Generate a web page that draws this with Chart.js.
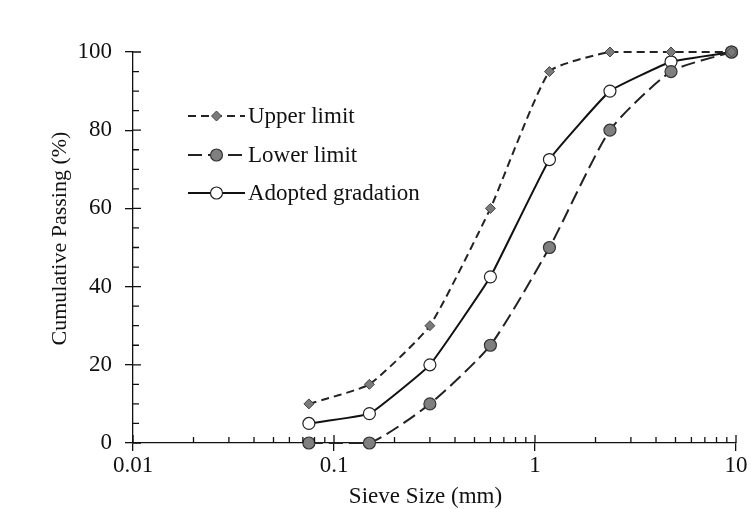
<!DOCTYPE html>
<html>
<head>
<meta charset="utf-8">
<script src="https://cdn.jsdelivr.net/npm/chart.js@4.4.1/dist/chart.umd.min.js"></script>
<style>
  html, body { margin: 0; padding: 0; background: #fff; }
  #wrap { width: 751px; height: 509px; }
</style>
</head>
<body>
<div id="wrap"><canvas id="grading"></canvas></div>
<script>
const sieveSizes = [0.075, 0.15, 0.3, 0.6, 1.18, 2.36, 4.75, 9.5];
const upperLimit = [10, 15, 30, 60, 95, 100, 100, 100];
const lowerLimit = [0, 0, 10, 25, 50, 80, 95, 100];
const adopted = [5, 7.5, 20, 42.5, 72.5, 90, 97.5, 100];
const xTicks = [0.01, 0.1, 1, 10];
const seriesNames = ['Upper limit', 'Lower limit', 'Adopted gradation'];
const xTitle = 'Sieve Size (mm)';
const yTitle = 'Cumulative Passing (%)';

const FONT = '"Liberation Serif", "Times New Roman", serif';

function pts(ys) {
    return sieveSizes.map((x, i) => ({ x: x, y: ys[i] }));
}

// minor ticks pointing into the plot, and the inner half of the major ticks
const innerTicks = {
    id: 'innerTicks',
    afterDraw(chart) {
        const ctx = chart.ctx;
        const xs = chart.scales.x, ys = chart.scales.y;
        const bottom = ys.getPixelForValue(0), left = xs.getPixelForValue(0.01);
        ctx.save();
        ctx.strokeStyle = '#111';
        ctx.lineWidth = 1.3;
        ctx.beginPath();
        for (let d = 0.01; d < 10; d *= 10) {
            for (let m = 1; m <= 10; m++) {
                const px = xs.getPixelForValue(d * m);
                const len = (m === 1 || m === 10) ? 8 : 6;
                ctx.moveTo(px, bottom);
                ctx.lineTo(px, bottom - len);
            }
        }
        for (let v = 0; v <= 100; v += 5) {
            const py = ys.getPixelForValue(v);
            const len = v % 20 === 0 ? 8 : 6;
            ctx.moveTo(left, py);
            ctx.lineTo(left + len, py);
        }
        ctx.stroke();
        ctx.restore();
    }
};

// axis titles, sitting a little left / above the plot centre like the original
const axisTitles = {
    id: 'axisTitles',
    afterDraw(chart) {
        const ctx = chart.ctx, a = chart.chartArea;
        ctx.save();
        ctx.fillStyle = '#111';
        ctx.font = '23px ' + FONT;
        ctx.textAlign = 'center';
        ctx.textBaseline = 'middle';
        ctx.fillText(xTitle, (a.left + a.right) / 2 - 9, 497);
        ctx.translate(60, (a.top + a.bottom) / 2 - 9);
        ctx.rotate(-Math.PI / 2);
        ctx.font = '22px ' + FONT;
        ctx.fillText(yTitle, 0, 0);
        ctx.restore();
    }
};

function drawMarker(ctx, ds, x, y) {
    ctx.save();
    ctx.setLineDash([]);
    ctx.fillStyle = ds.pointBackgroundColor;
    ctx.strokeStyle = ds.pointBorderColor;
    ctx.lineWidth = ds.pointBorderWidth;
    const r = ds.pointRadius;
    ctx.beginPath();
    if (ds.pointStyle === 'rectRot') {
        ctx.moveTo(x, y - r); ctx.lineTo(x + r, y); ctx.lineTo(x, y + r); ctx.lineTo(x - r, y); ctx.closePath();
    } else {
        ctx.arc(x, y, r, 0, Math.PI * 2);
    }
    ctx.fill();
    ctx.stroke();
    ctx.restore();
}

// legend inside the plot, line sample with marker in the middle
const insideLegend = {
    id: 'insideLegend',
    afterDraw(chart) {
        const ctx = chart.ctx;
        const x0 = 188, x1 = 245, rowY = [116, 155, 193];
        chart.data.datasets.forEach((ds, i) => {
            const y = rowY[i];
            ctx.save();
            ctx.strokeStyle = ds.borderColor;
            ctx.lineWidth = ds.borderWidth;
            ctx.setLineDash(ds.borderDash || []);
            ctx.beginPath();
            ctx.moveTo(x0, y);
            ctx.lineTo(x1, y);
            ctx.stroke();
            ctx.restore();
            drawMarker(ctx, ds, (x0 + x1) / 2, y);
            ctx.save();
            ctx.fillStyle = '#111';
            ctx.font = '23px ' + FONT;
            ctx.textBaseline = 'middle';
            ctx.fillText(ds.label, x1 + 3, y + 1);
            ctx.restore();
        });
    }
};

new Chart(document.getElementById('grading'), {
    type: 'line',
    data: {
        datasets: [{
            label: seriesNames[0],
            data: pts(upperLimit),
            borderColor: '#222',
            borderWidth: 2,
            borderDash: [8, 5],
            pointStyle: 'rectRot',
            pointRadius: 5,
            pointBackgroundColor: '#7a7a7a',
            pointBorderColor: '#444',
            pointBorderWidth: 1,
            tension: 0.15,
            clip: false
        }, {
            label: seriesNames[1],
            data: pts(lowerLimit),
            borderColor: '#222',
            borderWidth: 2,
            borderDash: [14, 6],
            pointStyle: 'circle',
            pointRadius: 6,
            pointBackgroundColor: '#7f7f7f',
            pointBorderColor: '#333',
            pointBorderWidth: 1.2,
            tension: 0.2,
            clip: false
        }, {
            label: seriesNames[2],
            data: pts(adopted),
            borderColor: '#111',
            borderWidth: 2,
            pointStyle: 'circle',
            pointRadius: 6,
            pointBackgroundColor: '#fff',
            pointBorderColor: '#222',
            pointBorderWidth: 1.2,
            tension: 0.1,
            clip: false
        }]
    },
    options: {
        responsive: true,
        maintainAspectRatio: false,
        animation: false,
        layout: { padding: { top: 52, right: 15, bottom: 0, left: 48 } },
        plugins: {
            legend: { display: false },
            tooltip: { enabled: false }
        },
        scales: {
            x: {
                type: 'logarithmic',
                min: 0.01,
                max: 10,
                afterBuildTicks: (axis) => { axis.ticks = xTicks.map(v => ({ value: v })); },
                afterFit: (axis) => { axis.height = 66; },
                border: { color: '#111', width: 1.3 },
                grid: { drawOnChartArea: false, color: '#111', tickLength: 8, lineWidth: 1.3 },
                ticks: {
                    color: '#111',
                    font: { family: FONT, size: 23 },
                    padding: 1,
                    maxRotation: 0,
                    callback: (v) => String(v)
                },
                title: { display: false }
            },
            y: {
                min: 0,
                max: 100,
                afterFit: (axis) => { axis.width = 85; },
                border: { color: '#111', width: 1.3 },
                grid: { drawOnChartArea: false, color: '#111', tickLength: 8, lineWidth: 1.3 },
                ticks: {
                    stepSize: 20,
                    color: '#111',
                    font: { family: FONT, size: 23 },
                    padding: 13
                },
                title: { display: false }
            }
        }
    },
    plugins: [innerTicks, axisTitles, insideLegend]
});
</script>
</body>
</html>
